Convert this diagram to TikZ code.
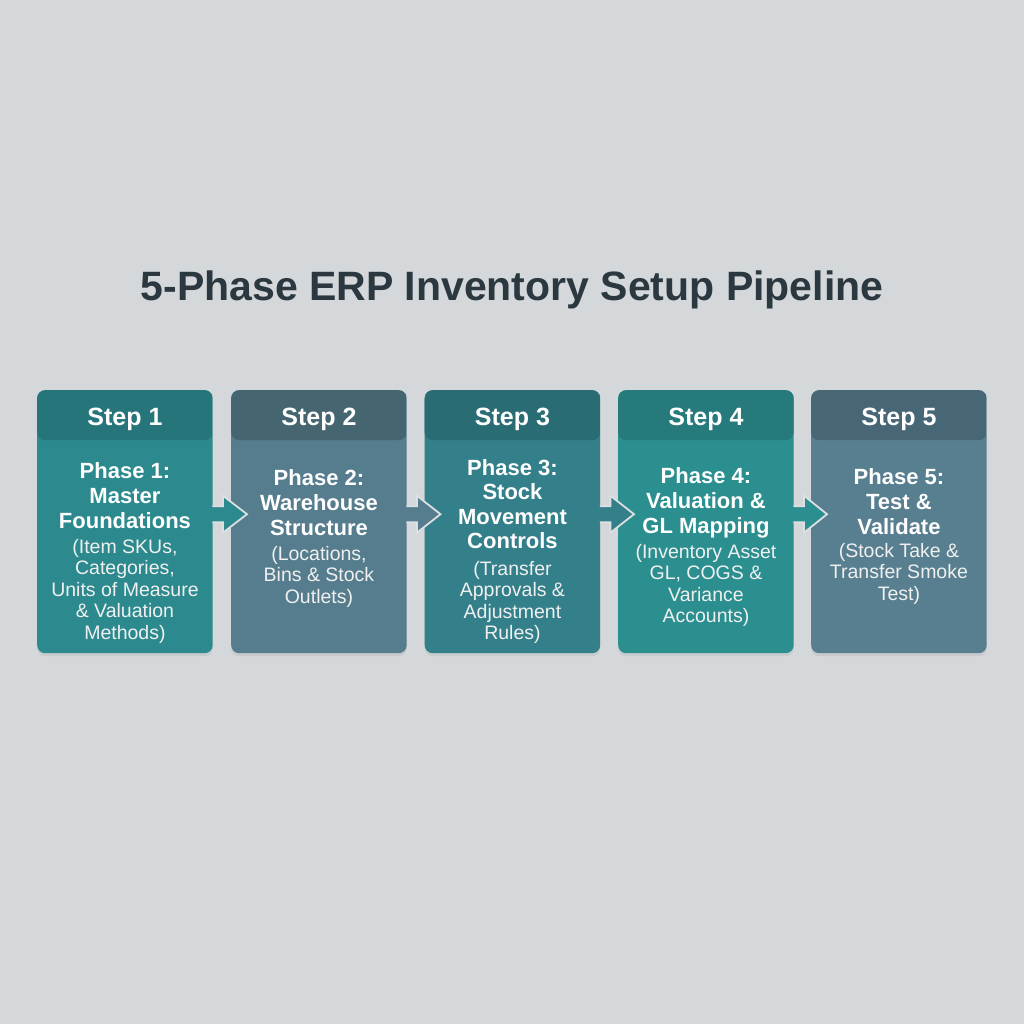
\documentclass[tikz,border=0pt]{standalone}
\usepackage{fontspec}
\setmainfont{Liberation Sans}
\usetikzlibrary{shadows,calc}
\definecolor{bg}{HTML}{D4D8DA}
\definecolor{titlec}{HTML}{2B3840}
\definecolor{outl}{HTML}{DCE0E2}
\definecolor{bodyA}{HTML}{2C8A8E}
\definecolor{hdrA}{HTML}{25757A}
\definecolor{bodyB}{HTML}{567D8D}
\definecolor{hdrB}{HTML}{456571}
\definecolor{bodyC}{HTML}{33808A}
\definecolor{hdrC}{HTML}{2A6C74}
\definecolor{bodyD}{HTML}{2B8E8F}
\definecolor{hdrD}{HTML}{267A7C}
\definecolor{bodyE}{HTML}{587F90}
\definecolor{hdrE}{HTML}{476676}
\begin{document}
\begin{tikzpicture}[x=1pt,y=-1pt,
  card/.style n args={2}{rectangle, rounded corners=8pt, minimum width=175.5pt,
    minimum height=263pt, inner sep=0pt, anchor=north west, fill=#1,
    drop shadow={opacity=0.14, shadow xshift=0pt, shadow yshift=-3pt},
    path picture={\fill[#2] (path picture bounding box.north west) rectangle
      ([yshift=-50pt]path picture bounding box.north east);}},
  steptxt/.style={anchor=base, text=white, font=\bfseries\fontsize{25}{30}\selectfont},
  phasetxt/.style={anchor=north, inner sep=0pt, text=white, align=center,
    font=\bfseries\fontsize{22}{25.3}\selectfont},
  desctxt/.style={anchor=north, inner sep=0pt, text=white!94!black, align=center,
    font=\fontsize{19.5}{21.5}\selectfont},
  flowarrow/.style={fill=#1},
  arrowline/.style={draw=outl, line width=1.8pt, line join=miter}
]
\useasboundingbox (0,0) rectangle (1024,1024);
\fill[bg] (0,0) rectangle (1024,1024);

\node[anchor=base, text=titlec, font=\bfseries\fontsize{41}{50}\selectfont] (title) at (512,300)
  {5-Phase ERP Inventory Setup Pipeline};

% cards
\node[card={bodyA}{hdrA}] (b1) at (37,390) {};
\node[card={bodyB}{hdrB}] (b2) at (231,390) {};
\node[card={bodyC}{hdrC}] (b3) at (424.5,390) {};
\node[card={bodyD}{hdrD}] (b4) at (618,390) {};
\node[card={bodyE}{hdrE}] (b5) at (811,390) {};

% headers
\node[steptxt] (h1) at ($(b1.north)+(0,35)$) {Step 1};
\node[steptxt] (h2) at ($(b2.north)+(0,35)$) {Step 2};
\node[steptxt] (h3) at ($(b3.north)+(0,35)$) {Step 3};
\node[steptxt] (h4) at ($(b4.north)+(0,35)$) {Step 4};
\node[steptxt] (h5) at ($(b5.north)+(0,35)$) {Step 5};

% phase titles
\node[phasetxt] (p1) at ($(b1.north)+(0,72)$) {Phase 1:\\Master\\Foundations};
\node[phasetxt] (p2) at ($(b2.north)+(0,79)$) {Phase 2:\\Warehouse\\Structure};
\node[phasetxt, font=\bfseries\fontsize{22}{24.5}\selectfont] (p3) at ($(b3.north)+(0,69)$) {Phase 3:\\Stock\\Movement\\Controls};
\node[phasetxt] (p4) at ($(b4.north)+(0,77)$) {Phase 4:\\Valuation \&\\GL Mapping};
\node[phasetxt] (p5) at ($(b5.north)+(0,78)$) {Phase 5:\\Test \&\\Validate};

% descriptions
\node[desctxt] (d1) at ($(b1.north)+(0,149)$) {(Item SKUs,\\Categories,\\Units of Measure\\\& Valuation\\Methods)};
\node[desctxt] (d2) at ($(b2.north)+(0,156)$) {(Locations,\\Bins \& Stock\\Outlets)};
\node[desctxt] (d3) at ($(b3.north)+(0,171)$) {(Transfer\\Approvals \&\\Adjustment\\Rules)};
\node[desctxt] (d4) at ($(b4.north)+(0,154)$) {(Inventory Asset\\GL, COGS \&\\Variance\\Accounts)};
\node[desctxt] (d5) at ($(b5.north)+(0,153)$) {(Stock Take \&\\Transfer Smoke\\Test)};

% arrows
\foreach \a/\b/\c in {b1/b2/bodyA, b2/b3/bodyB, b3/b4/bodyC, b4/b5/bodyD}{
  \fill[flowarrow=\c] ($(\a.east)+(-1,-15.5)$) -- ($(\a.east)+(10,-15.5)$) -- ($(\a.east)+(10,-26)$)
     -- ($(\b.west)+(16,-7.5)$) -- ($(\a.east)+(10,11)$) -- ($(\a.east)+(10,0.5)$)
     -- ($(\a.east)+(-1,0.5)$) -- cycle;
  \draw[arrowline] ($(\a.east)+(-0.5,-15.5)$) -- ($(\a.east)+(10,-15.5)$) -- ($(\a.east)+(10,-26)$)
     -- ($(\b.west)+(16,-7.5)$) -- ($(\a.east)+(10,11)$) -- ($(\a.east)+(10,0.5)$)
     -- ($(\a.east)+(-0.5,0.5)$);
}
\end{tikzpicture}
\end{document}
